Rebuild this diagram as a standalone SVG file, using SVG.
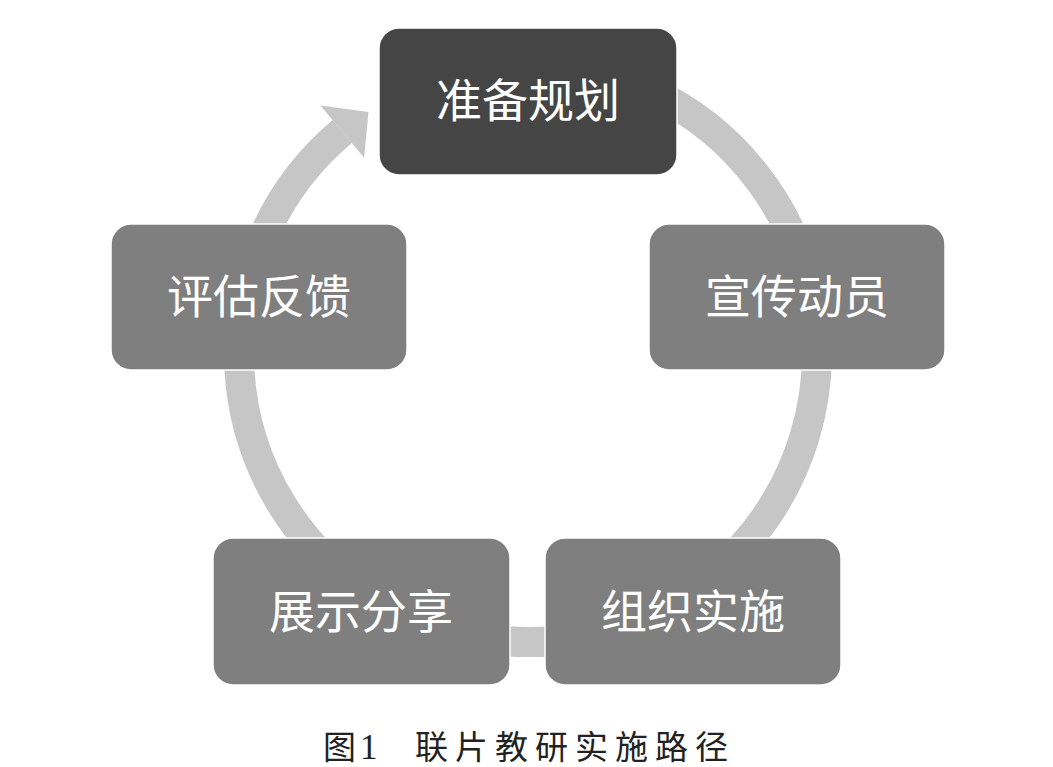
<svg xmlns="http://www.w3.org/2000/svg" width="1053" height="767" viewBox="0 0 1053 767">
  <style>
    .node { fill: #7f7f7f; stroke: #ffffff; stroke-width: 1.5; }
    .dark { fill: #454545; }
    .label { font-family: "Noto Sans CJK SC", sans-serif; font-size: 46px; fill: #ffffff; text-anchor: middle; }
    .ring { fill: none; stroke: #c6c6c6; stroke-width: 30; stroke-linecap: butt; }
    .head { fill: #c6c6c6; }
    .caption { font-family: "Liberation Serif", "Noto Sans CJK SC", serif; font-size: 33px; fill: #222222; }
  </style>
  <rect width="1053" height="767" fill="#ffffff"/>
  <g id="connectors">
    <path class="ring" d="M 528 64 A 289 289 0 1 1 342.2 131.6"/>
    <path class="head" d="M 320.4 105.6 L 368.5 112 L 364.1 157.7 Z"/>
  </g>
  <g id="node-prepare">
    <rect class="node dark" x="379" y="28" width="298" height="147" rx="20"/>
    <text class="label" x="528" y="117">准备规划</text>
  </g>
  <g id="node-publicize">
    <rect class="node" x="649" y="224" width="296" height="146" rx="20"/>
    <text class="label" x="797" y="313">宣传动员</text>
  </g>
  <g id="node-implement">
    <rect class="node" x="545" y="538" width="296" height="147" rx="20"/>
    <text class="label" x="693" y="628">组织实施</text>
  </g>
  <g id="node-share">
    <rect class="node" x="213" y="538" width="297" height="147" rx="20"/>
    <text class="label" x="361" y="628">展示分享</text>
  </g>
  <g id="node-evaluate">
    <rect class="node" x="111" y="224" width="296" height="146" rx="20"/>
    <text class="label" x="259" y="313">评估反馈</text>
  </g>
  <g id="caption">
    <text class="caption" x="323" y="759">图<tspan x="360" font-size="35">1</tspan></text>
    <text class="caption" x="415" y="759" letter-spacing="7">联片教研实施路径</text>
  </g>
</svg>
